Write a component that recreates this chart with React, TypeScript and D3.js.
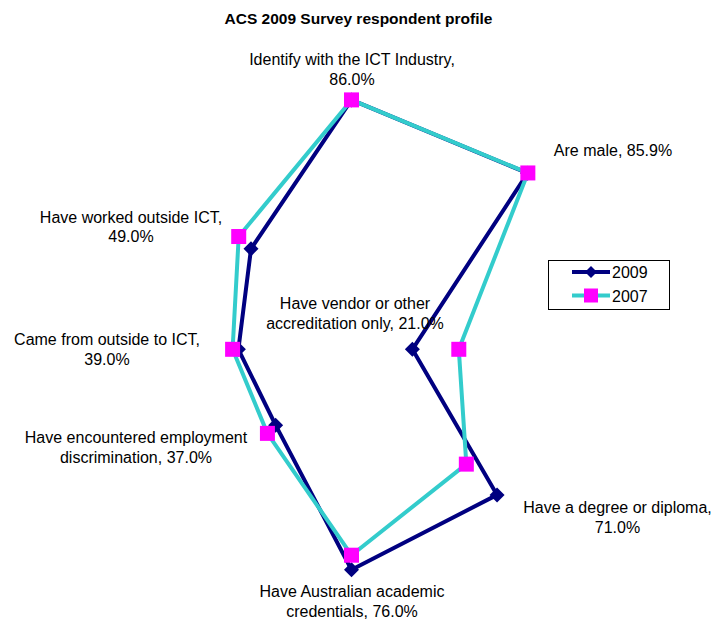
import React from "react";
import * as d3 from "d3";

const categories = [
  "Identify with the ICT Industry",
  "Are male",
  "Have vendor or other accreditation only",
  "Have a degree or diploma",
  "Have Australian academic credentials",
  "Have encountered employment discrimination",
  "Came from outside to ICT",
  "Have worked outside ICT",
];
const values2009 = [0.86, 0.859, 0.21, 0.71, 0.76, 0.37, 0.39, 0.49];
const values2007 = [0.86, 0.86, 0.37, 0.56, 0.71, 0.41, 0.41, 0.55];
const seriesNames = ["2009", "2007"];
const title = "ACS 2009 Survey respondent profile";

// label layout: center x, first baseline y, words on first line
const labelLayout = [
  { x: 352, y: 65, words: 5 },
  { x: 613, y: 156, words: 99 },
  { x: 355, y: 309, words: 4 },
  { x: 617.5, y: 513, words: 5 },
  { x: 352, y: 597, words: 3 },
  { x: 136, y: 443, words: 3 },
  { x: 107, y: 345, words: 5 },
  { x: 131, y: 222.5, words: 4 },
];

const W = 715;
const H = 623;
const cx = 351.5;
const cy = 349.3;
const R = 290;
const FONT = "'Liberation Sans', Arial, sans-serif";

export default function App() {
  const r = d3.scaleLinear().domain([0, 1]).range([0, R]);
  const angle = d3
    .scaleLinear()
    .domain([0, categories.length])
    .range([0, 2 * Math.PI]);
  const pt = (v: number, i: number): [number, number] => {
    const a = angle(i);
    return [cx + r(v) * Math.sin(a), cy - r(v) * Math.cos(a)];
  };
  const line = d3.line<[number, number]>().curve(d3.curveLinearClosed);
  const pts09 = values2009.map((v, i) => pt(v, i));
  const pts07 = values2007.map((v, i) => pt(v, i));

  const labels = categories.map((c, i) => {
    const full = `${c}, ${(values2009[i] * 100).toFixed(1)}%`;
    const words = full.split(" ");
    const n = labelLayout[i].words;
    const l1 = words.slice(0, n).join(" ");
    const l2 = words.slice(n).join(" ");
    return l2 ? [l1, l2] : [l1];
  });

  const navy = "#000080";
  const teal = "#33CCCC";
  const magenta = "#FF00FF";

  const diamond = (x: number, y: number, s: number) =>
    `M${x},${y - s}L${x + s},${y}L${x},${y + s}L${x - s},${y}Z`;

  return (
    <svg
      width={W}
      height={H}
      style={{ position: "absolute", left: 0, top: 0, background: "#fff" }}
      fontFamily={FONT}
    >
      <rect width={W} height={H} fill="#fff" />
      <text
        x={358.5}
        y={24}
        textAnchor="middle"
        fontSize={15.5}
        fontWeight="bold"
        fill="#000"
      >
        {title}
      </text>

      <path d={line(pts09) || ""} fill="none" stroke={navy} strokeWidth={4} strokeLinejoin="round" />
      {pts09.map(([x, y], i) => (
        <path key={"d" + i} d={diamond(x, y, 7.5)} fill={navy} />
      ))}
      <path d={line(pts07) || ""} fill="none" stroke={teal} strokeWidth={4} strokeLinejoin="round" />
      {pts07.map(([x, y], i) => (
        <rect key={"s" + i} x={x - 7.5} y={y - 7.5} width={15} height={15} fill={magenta} />
      ))}

      {labels.map((lines, i) => (
        <text
          key={"l" + i}
          x={labelLayout[i].x}
          y={labelLayout[i].y}
          textAnchor="middle"
          fontSize={16}
          fill="#000"
        >
          {lines.map((t, j) => (
            <tspan key={j} x={labelLayout[i].x} dy={j === 0 ? 0 : 19.5}>
              {t}
            </tspan>
          ))}
        </text>
      ))}

      <g>
        <rect x={548.5} y={260.5} width={121} height={49} fill="#fff" stroke="#000" strokeWidth={1} />
        {seriesNames.map((s, i) => {
          const y = 272 + i * 23.5;
          const isNavy = i === 0;
          return (
            <g key={s}>
              <line x1={572} x2={610} y1={y} y2={y} stroke={isNavy ? navy : teal} strokeWidth={4} />
              {isNavy ? (
                <path d={diamond(591, y, 6)} fill={navy} />
              ) : (
                <rect x={584} y={y - 7} width={14} height={14} fill={magenta} />
              )}
              <text x={612} y={y + 6} fontSize={16} fill="#000">
                {s}
              </text>
            </g>
          );
        })}
      </g>
    </svg>
  );
}
